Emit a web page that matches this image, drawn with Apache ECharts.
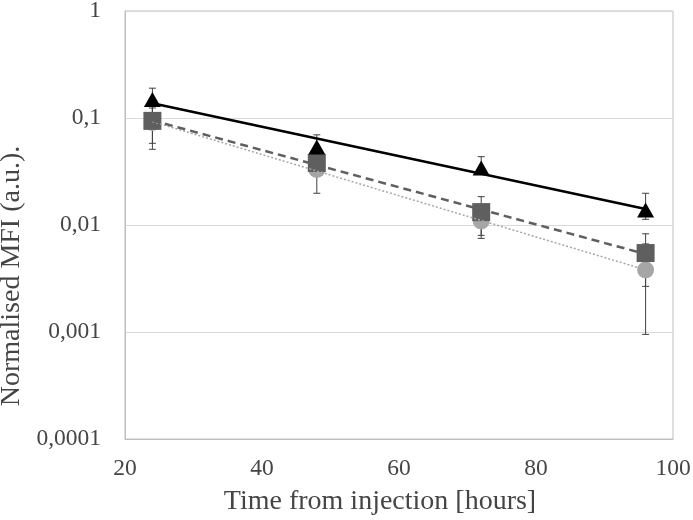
<!DOCTYPE html>
<html>
<head>
<meta charset="utf-8">
<script src="https://cdn.jsdelivr.net/npm/echarts@6/dist/echarts.min.js"></script>
<style>html,body{margin:0;padding:0;background:#fff}#c{width:693px;height:520px}</style>
</head>
<body>
<div id="c"></div>
<script>
// Data
const hours = [24, 48, 72, 96];
const triValues = [0.149, 0.0536, 0.0341, 0.0138];
const triErrPlus = [0.041, 0.016, 0.0094, 0.006];
const triErrMinus = [0.041, 0.016, 0.002, 0.0025];
const sqValues = [0.094, 0.038, 0.0132, 0.00547];
const sqErrPlus = [0.043, 0.008, 0.0052, 0.0028];
const sqErrMinus = [0.043, 0.008, 0.0052, 0.0028];
const ciValues = [0.091, 0.033, 0.0109, 0.0038];
const ciErrPlus = [0.033, 0.0132, 0.0034, 0.00285];
const ciErrMinus = [0.033, 0.0132, 0.0034, 0.00285];
const xTicks = [20, 40, 60, 80, 100];
const yTickLabels = ['0,0001', '0,001', '0,01', '0,1', '1'];

const FONT = '"Liberation Serif", "Times New Roman", serif';
const TEXT = '#454545';

function pts(vals) { return hours.map((h, i) => [h, vals[i]]); }
function errData(vals, plus, minus) {
  return hours.map((h, i) => [h, vals[i] - minus[i], vals[i] + plus[i]]);
}
// exponential trendline (least squares on ln y), as Excel does
function expFit(vals) {
  const n = hours.length;
  const lx = hours, ly = vals.map(Math.log);
  const mx = lx.reduce((a, b) => a + b) / n, my = ly.reduce((a, b) => a + b) / n;
  let sxy = 0, sxx = 0;
  for (let i = 0; i < n; i++) { sxy += (lx[i] - mx) * (ly[i] - my); sxx += (lx[i] - mx) ** 2; }
  const b = sxy / sxx, a = my - b * mx;
  const x0 = Math.min(...hours), x1 = Math.max(...hours);
  return [[x0, Math.exp(a + b * x0)], [x1, Math.exp(a + b * x1)]];
}

function errSeries(data, z) {
  return {
    type: 'custom', z: z, silent: true,
    renderItem: function (params, api) {
      const x = api.value(0);
      const lo = api.coord([x, api.value(1)]);
      const hi = api.coord([x, api.value(2)]);
      const w = 3.5;
      const st = { stroke: '#404040', lineWidth: 1 };
      return {
        type: 'group',
        children: [
          { type: 'line', shape: { x1: lo[0], y1: lo[1], x2: hi[0], y2: hi[1] }, style: st },
          { type: 'line', shape: { x1: lo[0] - w, y1: lo[1], x2: lo[0] + w, y2: lo[1] }, style: st },
          { type: 'line', shape: { x1: hi[0] - w, y1: hi[1], x2: hi[0] + w, y2: hi[1] }, style: st }
        ]
      };
    },
    encode: { x: 0, y: [1, 2] },
    data: data
  };
}

const chart = echarts.init(document.getElementById('c'));
chart.setOption({
  animation: false,
  backgroundColor: '#fff',
  grid: { left: 125, right: 20, top: 11, bottom: 81, containLabel: false, outerBoundsMode: 'none',
    show: true, borderColor: '#bfbfbf', borderWidth: 1 },
  xAxis: {
    type: 'value', min: 20, max: 100, interval: 20,
    name: 'Time from injection [hours]', nameLocation: 'middle', nameGap: 49,
    nameTextStyle: { fontFamily: FONT, fontSize: 28, color: TEXT, padding: [0, 38, 0, 0] },
    axisLine: { show: true, lineStyle: { color: '#bfbfbf' } },
    axisTick: { show: false },
    axisLabel: { fontFamily: FONT, fontSize: 23.5, color: TEXT, margin: 18,
      formatter: v => xTicks.includes(v) ? String(v) : '' },
    splitLine: { show: false }
  },
  yAxis: {
    type: 'log', logBase: 10, min: 0.0001, max: 1,
    name: 'Normalised MFI (a.u.).', nameLocation: 'middle', nameGap: 91,
    nameTextStyle: { fontFamily: FONT, fontSize: 28, color: TEXT, padding: [0, 102, 0, 0] },
    axisLine: { show: true, lineStyle: { color: '#bfbfbf' } },
    axisTick: { show: false },
    axisLabel: { fontFamily: FONT, fontSize: 23.5, color: TEXT, margin: 24,
      formatter: v => yTickLabels[Math.round(Math.log10(v)) + 4] },
    splitLine: { show: true, lineStyle: { color: '#d9d9d9', width: 1 } }
  },
  series: [
    errSeries(errData(ciValues, ciErrPlus, ciErrMinus), 1),
    errSeries(errData(sqValues, sqErrPlus, sqErrMinus), 1),
    errSeries(errData(triValues, triErrPlus, triErrMinus), 1),
    { type: 'scatter', z: 2, symbol: 'circle', symbolSize: 17, itemStyle: { color: '#a6a6a6', opacity: 1 }, data: pts(ciValues) },
    { type: 'scatter', z: 3, symbol: 'rect', symbolSize: 18, itemStyle: { color: '#5f5f5f', opacity: 1 }, data: pts(sqValues) },
    { type: 'scatter', z: 4, symbol: 'triangle', symbolSize: [17, 15], itemStyle: { color: '#000', opacity: 1 }, data: pts(triValues) },
    { type: 'line', z: 5, showSymbol: false, symbol: 'none', data: expFit(ciValues),
      lineStyle: { color: '#a6a6a6', width: 1.5, type: [2, 2] } },
    { type: 'line', z: 5, showSymbol: false, symbol: 'none', data: expFit(sqValues),
      lineStyle: { color: '#5f5f5f', width: 2.5, type: [8, 5] } },
    { type: 'line', z: 5, showSymbol: false, symbol: 'none', data: expFit(triValues),
      lineStyle: { color: '#000', width: 2.5 } }
  ]
});
</script>
</body>
</html>
